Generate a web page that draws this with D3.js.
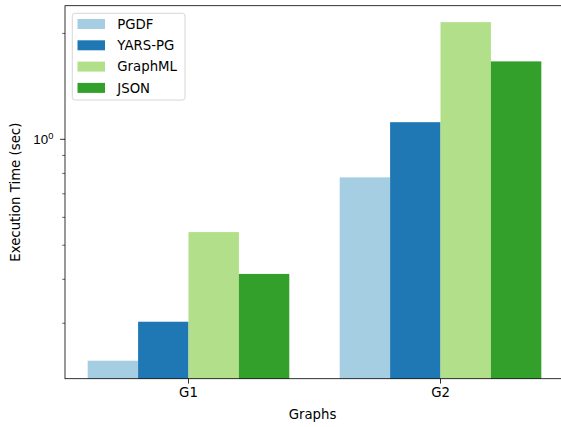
<!DOCTYPE html>
<html><head><meta charset="utf-8">
<script src="https://cdn.jsdelivr.net/npm/d3@7"></script>
<style>body{margin:0;background:#fff}svg{display:block;font-family:"DejaVu Sans",sans-serif}</style>
</head><body><svg id="c" width="561" height="427"></svg>
<script>
const categories = ["G1", "G2"];
const seriesNames = ["PGDF", "YARS-PG", "GraphML", "JSON"];
const pgdf = [0.234, 0.777];
const yarsPg = [0.302, 1.115];
const graphml = [0.543, 2.146];
const json = [0.413, 1.66];
const colors = ["#a6cee3", "#1f78b4", "#b2df8a", "#33a02c"];
const majorTicks = [1];
const minorTicks = [0.3, 0.4, 0.5, 0.6, 0.7, 0.8, 0.9, 2];
const yDomain = [0.208, 2.39];

const seriesVals = [pgdf, yarsPg, graphml, json];
const svg = d3.select("#c");
const L = 65, R = 564, T = 5.7, B = 378.7;
const fs = 13.3;

const x = d3.scaleBand().domain(categories).range([L, R]).paddingInner(0.2).paddingOuter(0.09);
const xs = d3.scaleBand().domain(seriesNames).range([0, x.bandwidth()]);
const y = d3.scaleLog().domain(yDomain).range([B, T]);

const g = svg.append("g");
seriesNames.forEach((s, si) => {
  g.selectAll(null).data(categories).enter().append("rect")
    .attr("x", c => x(c) + xs(s))
    .attr("width", xs.bandwidth())
    .attr("y", (c, i) => y(seriesVals[si][i]))
    .attr("height", (c, i) => B - y(seriesVals[si][i]))
    .attr("fill", colors[si]);
});

// y axis major
const yAxis = d3.axisLeft(y).tickValues(majorTicks).tickSize(4.9).tickPadding(6.8).tickFormat(() => "");
const ya = svg.append("g").attr("transform", `translate(${L},0)`).call(yAxis);
ya.select(".domain").remove();
ya.selectAll(".tick line").attr("stroke", "#000").attr("stroke-width", 0.8);
ya.selectAll(".tick").each(function(d) {
  const t = d3.select(this).select("text").attr("font-size", fs).attr("fill", "#000").attr("dy", "0.35em");
  t.text(null);
  t.append("tspan").text("10");
  t.append("tspan").attr("font-size", fs * 0.7).attr("dy", "-0.55em").text(String(Math.round(Math.log10(d))));
});
const yMinor = d3.axisLeft(y).tickValues(minorTicks).tickSize(2.8).tickFormat(() => "");
const ym = svg.append("g").attr("transform", `translate(${L},0)`).call(yMinor);
ym.select(".domain").remove();
ym.selectAll(".tick line").attr("stroke", "#000").attr("stroke-width", 0.6);

// x axis
const xAxis = d3.axisBottom(x).tickSize(4.9).tickPadding(3.5);
const xa = svg.append("g").attr("transform", `translate(0,${B})`).call(xAxis);
xa.select(".domain").remove();
xa.selectAll(".tick line").attr("stroke", "#000").attr("stroke-width", 0.8);
xa.selectAll(".tick text").attr("font-size", fs).attr("fill", "#000").attr("font-family", "DejaVu Sans");

// spines
svg.append("rect").attr("x", L).attr("y", T).attr("width", R - L).attr("height", B - T)
  .attr("fill", "none").attr("stroke", "#000").attr("stroke-width", 0.8);

// labels
svg.append("text").attr("x", (L + R) / 2 - 2).attr("y", 419).attr("text-anchor", "middle")
  .attr("font-size", fs).text("Graphs");
svg.append("text").attr("transform", `translate(20,${(T + B) / 2}) rotate(-90)`).attr("text-anchor", "middle")
  .attr("font-size", fs).text("Execution Time (sec)");

// legend
const lg = svg.append("g");
lg.append("rect").attr("x", 72.3).attr("y", 13.3).attr("width", 112.7).attr("height", 86.7)
  .attr("rx", 2.5).attr("fill", "#fff").attr("fill-opacity", 0.8).attr("stroke", "#cccccc").attr("stroke-width", 0.8);
seriesNames.forEach((s, i) => {
  const yy = 19 + i * 21.3;
  lg.append("rect").attr("x", 77.5).attr("y", yy).attr("width", 27.5).attr("height", 10).attr("fill", colors[i]);
  lg.append("text").attr("x", 117.3).attr("y", yy + 5).attr("dy", "0.35em").attr("font-size", fs).text(s);
});
</script></body></html>
